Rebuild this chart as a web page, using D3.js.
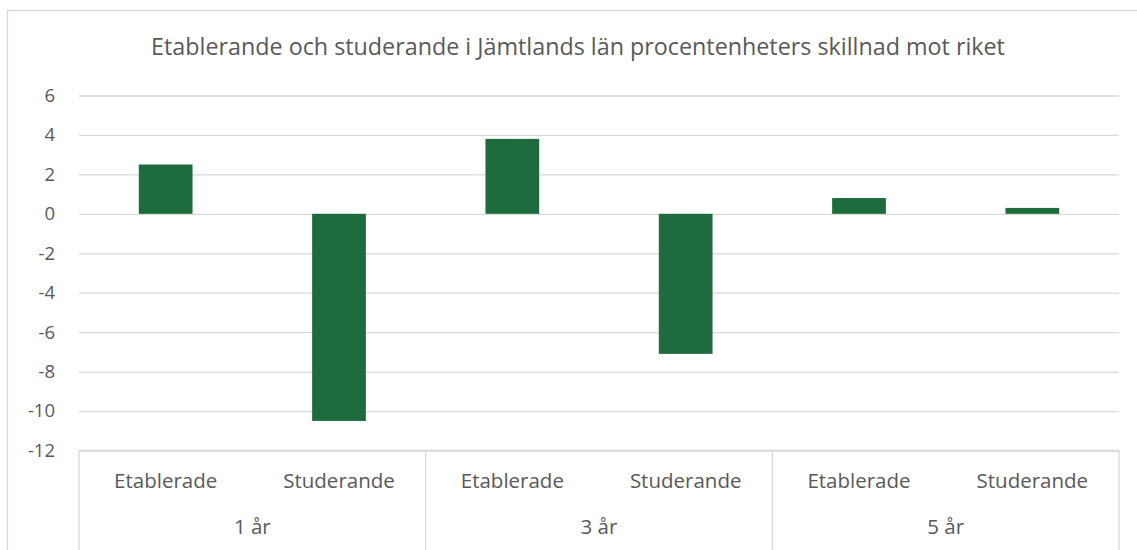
<!DOCTYPE html>
<html><head><meta charset="utf-8">
<script src="https://cdn.jsdelivr.net/npm/d3@7"></script>
<style>body{margin:0;background:#fff;} svg{display:block;}</style>
</head><body>
<svg id="c" width="1137" height="550"></svg>
<script>
const title = "Etablerande och studerande i Jämtlands län procentenheters skillnad mot riket";
const groups = ["1 år", "3 år", "5 år"];
const subCategories = ["Etablerade", "Studerande"];
const values = [2.5, -10.5, 3.8, -7.1, 0.8, 0.3];
const yTicks = [6, 4, 2, 0, -2, -4, -6, -8, -10, -12];

(function () {
const svg = d3.select("#c");
const font = "'Open Sans', sans-serif";
const pLeft = 79, pRight = 1119, pTop = 95.5, pBottom = 450.5;

// chart border
svg.append("rect").attr("x", 7.5).attr("y", 10.5).attr("width", 1140).attr("height", 560)
  .attr("fill", "#fff").attr("stroke", "#d9d9d9").attr("stroke-width", 1.3);

svg.append("text").attr("x", 578).attr("y", 55).attr("text-anchor", "middle")
  .attr("font-family", font).attr("font-size", 23.3).attr("fill", "#595959").text(title);

const y = d3.scaleLinear().domain([-12, 6]).range([pBottom, pTop]);
const cats = [];
groups.forEach(g => subCategories.forEach(s => cats.push(g + "|" + s)));
const x = d3.scaleBand().domain(cats).range([pLeft, pRight]).paddingInner(0.69).paddingOuter(0.345);

// gridlines
const yAxis = d3.axisLeft(y).tickValues(yTicks).tickSize(-(pRight - pLeft)).tickFormat(d => d < 0 ? "-" + Math.abs(d) : d);
const ga = svg.append("g").attr("transform", `translate(${pLeft},0)`).call(yAxis);
ga.select(".domain").remove();
ga.selectAll(".tick line").attr("stroke", "#d9d9d9").attr("stroke-width", 1.3);
ga.selectAll(".tick text").attr("font-family", font).attr("font-size", 18.5).attr("fill", "#595959").attr("x", -24);

// bars
svg.append("g").selectAll("rect").data(values).join("rect")
  .attr("x", (d, i) => x(cats[i]))
  .attr("width", x.bandwidth())
  .attr("y", d => y(Math.max(0, d)))
  .attr("height", d => Math.abs(y(d) - y(0)))
  .attr("fill", "#1e6b3d");

// category axis
const gx = d3.scaleBand().domain(groups).range([pLeft, pRight]);
const cat = svg.append("g");
cat.append("line").attr("x1", pLeft).attr("x2", pRight).attr("y1", pBottom).attr("y2", pBottom).attr("stroke", "#d9d9d9").attr("stroke-width", 1.3);
[pLeft, ...groups.map(g => gx(g) + gx.bandwidth())].forEach(xx => {
  cat.append("line").attr("x1", xx).attr("x2", xx).attr("y1", pBottom).attr("y2", 550).attr("stroke", "#d9d9d9").attr("stroke-width", 1.3);
});
cat.selectAll("text.sub").data(cats).join("text").attr("class", "sub")
  .attr("x", d => x(d) + x.bandwidth() / 2).attr("y", 488).attr("text-anchor", "middle")
  .attr("font-family", font).attr("font-size", 20.5).attr("fill", "#595959")
  .text(d => d.split("|")[1]);
cat.selectAll("text.grp").data(groups).join("text").attr("class", "grp")
  .attr("x", d => gx(d) + gx.bandwidth() / 2).attr("y", 534).attr("text-anchor", "middle")
  .attr("font-family", font).attr("font-size", 20.5).attr("fill", "#595959")
  .text(d => d);
})();
</script>
</body></html>
